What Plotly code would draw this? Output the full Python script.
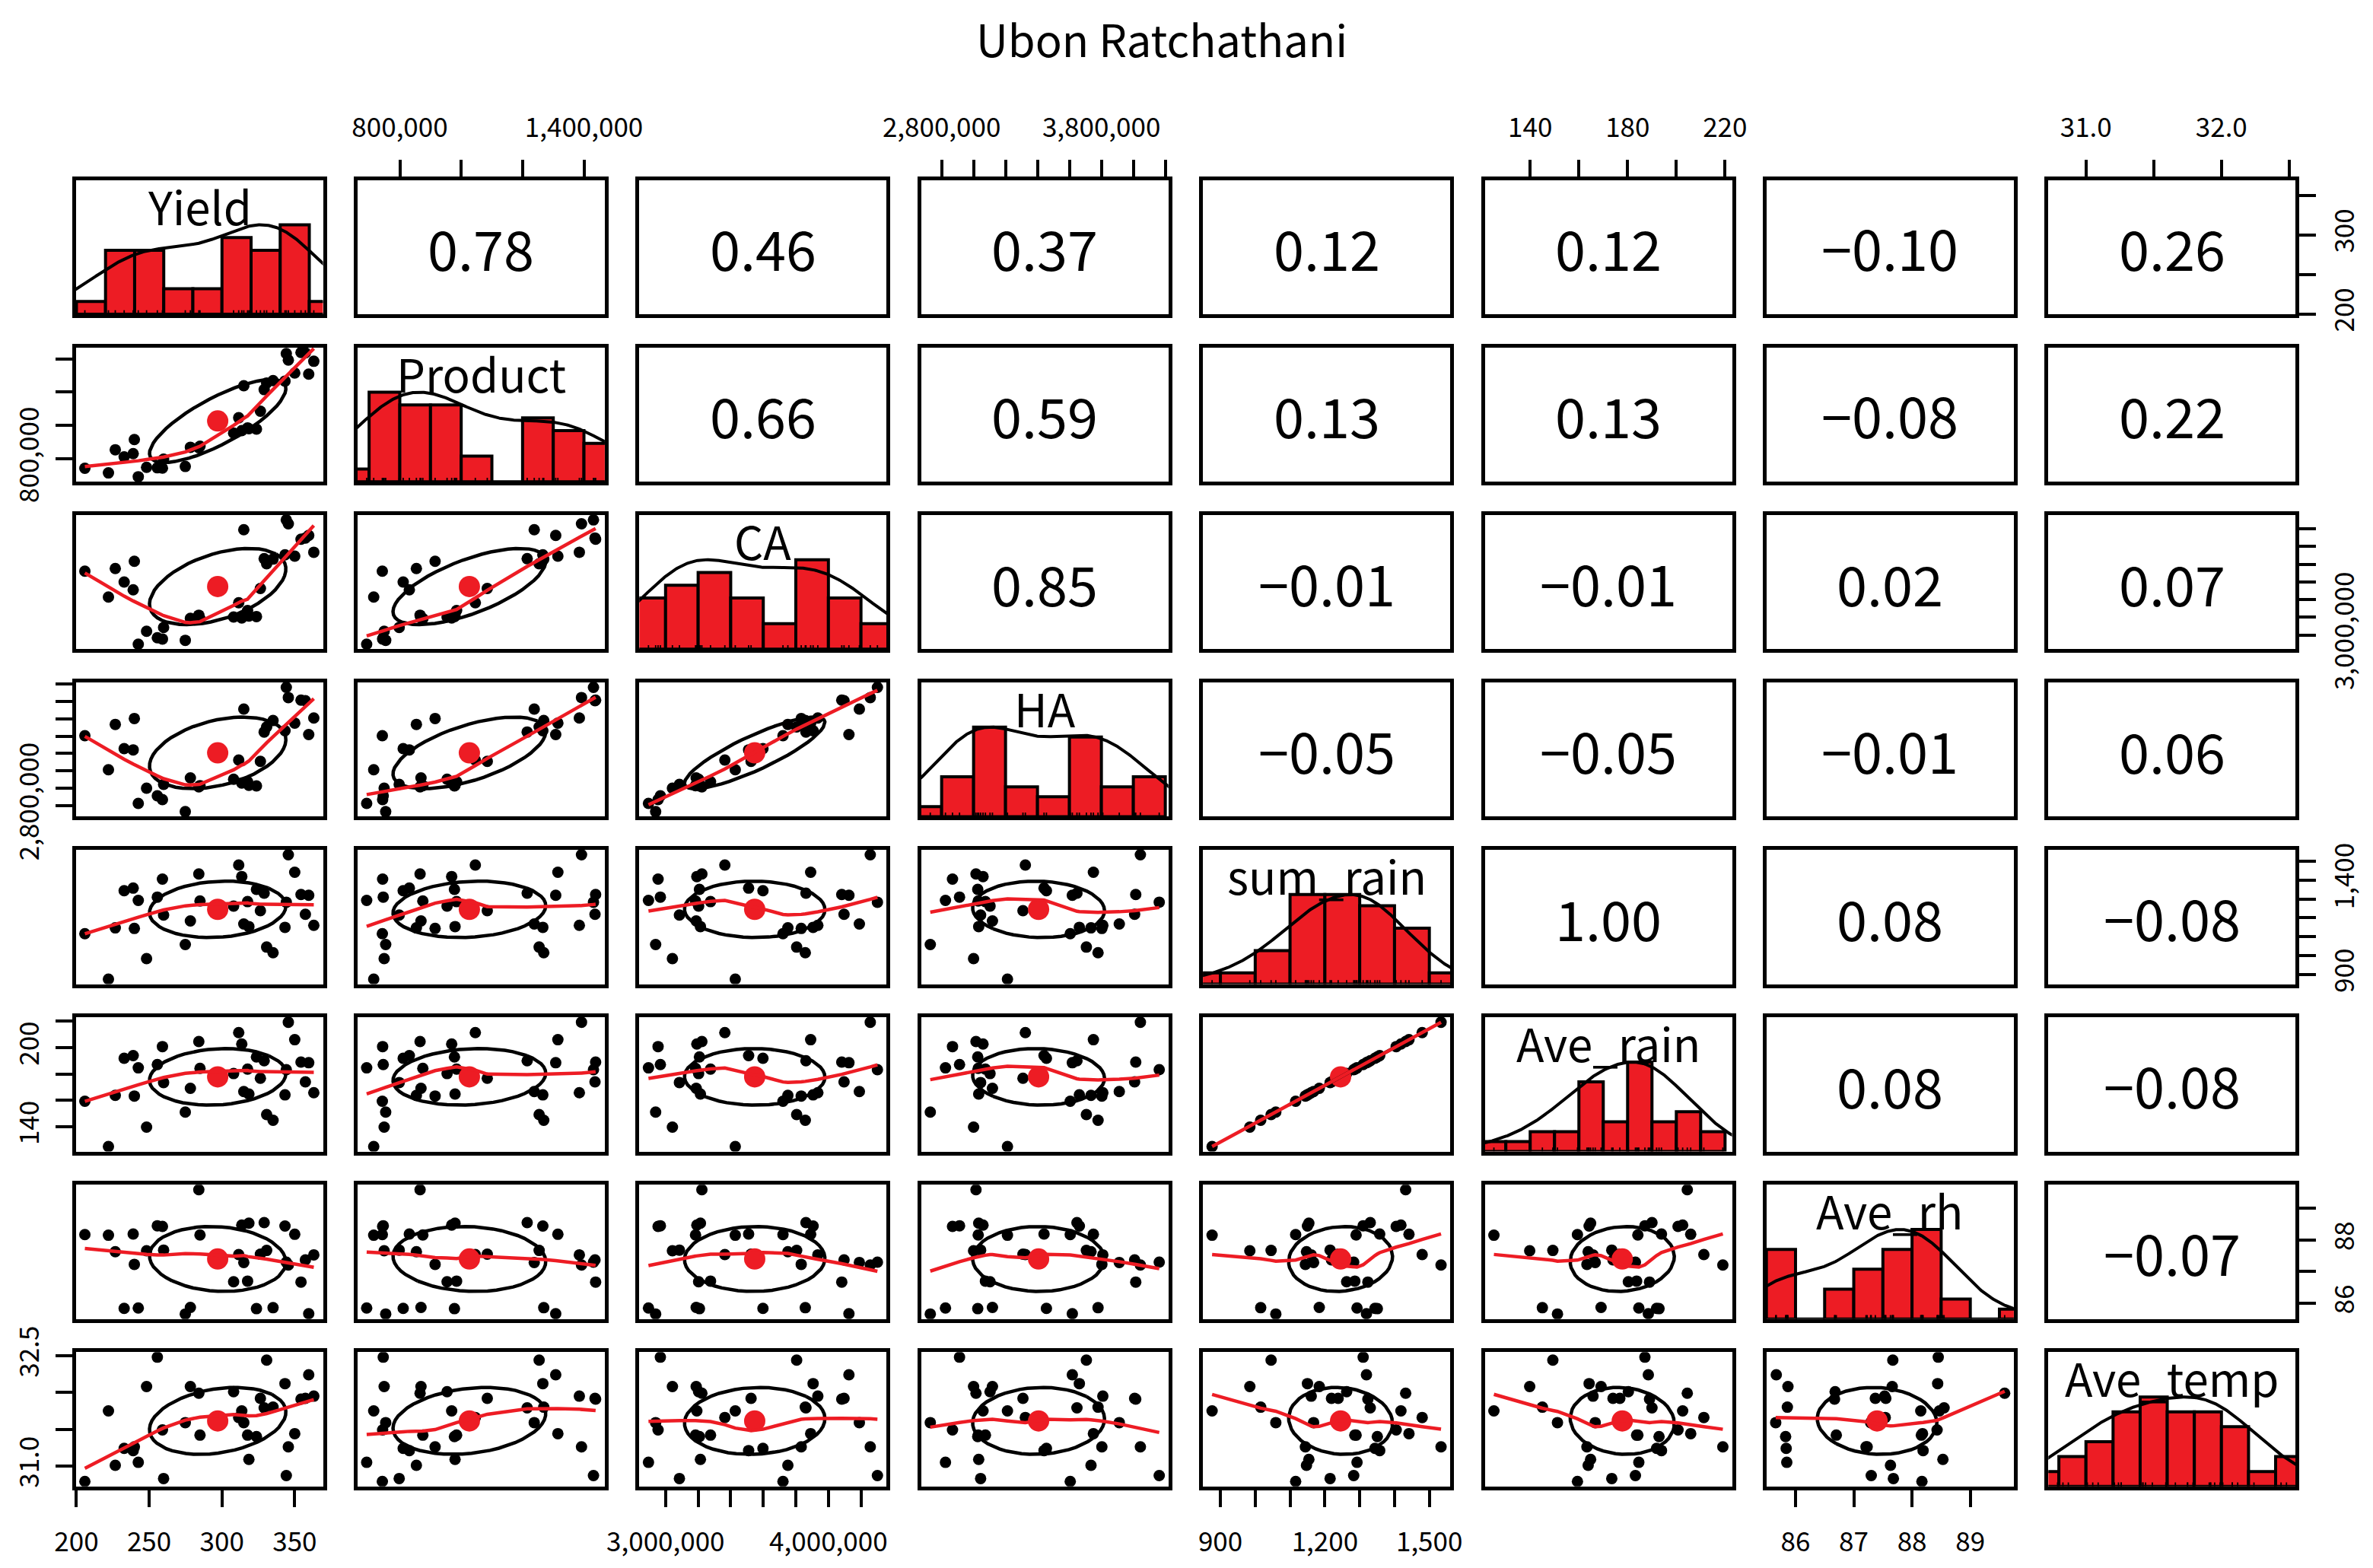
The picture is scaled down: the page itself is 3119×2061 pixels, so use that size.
import numpy as np
import plotly.graph_objects as go

W, H = 3119, 2061
RED = "#ED1C24"
FONT = "Noto Sans CJK SC, Noto Sans CJK JP, Liberation Sans, Arial, sans-serif"

# ---------------- data ----------------
var_names = ["Yield", "Product", "CA", "HA", "sum_rain", "Ave_rain", "Ave_rh", "Ave_temp"]

yield_vals = [205.8, 222.0, 226.7, 232.8, 239.0, 239.8, 242.5, 248.2, 255.6, 259.1, 259.9, 274.8,
              278.3, 284.1, 284.9, 308.0, 311.5, 313.6, 315.0, 317.6, 318.5, 323.7, 326.4, 329.0,
              330.7, 335.1, 343.3, 344.2, 345.6, 350.0, 354.3, 357.3, 359.6, 363.1]
product_vals = [743000, 715000, 854000, 811000, 831000, 915000, 692000, 749000, 746000, 744000,
                798000, 754000, 869000, 866000, 875000, 954000, 1046000, 969000, 1238000, 985000,
                980000, 978000, 1085000, 1215000, 1254000, 1269000, 1266000, 1431000, 1392000,
                1315000, 1438000, 1436000, 1308000, 1385000]
ca_vals = [3721000, 3428000, 3751000, 3598000, 3510000, 3833000, 2895000, 3042000, 2968000, 2954000,
           3085000, 2939000, 3188000, 3223000, 3184000, 3203000, 3364000, 3192000, 4190000, 3276000,
           3214000, 3208000, 3525000, 3862000, 3805000, 3858000, 3906000, 4301000, 4257000, 3891000,
           4082000, 4096000, 4126000, 3935000]
ha_vals = [3605000, 3212000, 3735000, 3456000, 3441000, 3803000, 2824000, 3000000, 2912000, 2868000,
           3044000, 2729000, 3118000, 3015000, 3029000, 3103000, 3324000, 3059000, 3912000, 3074000,
           3032000, 3026000, 3309000, 3647000, 3706000, 3779000, 3662000, 4162000, 4044000, 3750000,
           4015000, 4008000, 3618000, 3809000]
sum_rain_vals = [1116.1, 876.1, 1147.2, 1343.8, 1357.4, 1144.0, 1292.3, 984.5, 1309.9, 1404.8,
                 1215.0, 1059.1, 1183.9, 1432.0, 1289.6, 1262.5, 1479.4, 1418.4, 1167.6, 1286.0,
                 1154.0, 1350.6, 1238.1, 1330.3, 1045.6, 1015.7, 1150.0, 1282.8, 1533.6, 1441.5,
                 1323.5, 1219.0, 1319.4, 1160.8]
ave_rain_vals = [159.4, 125.1, 163.8, 191.9, 193.9, 163.3, 184.6, 139.8, 187.1, 200.7, 173.5, 151.2,
                 169.1, 204.5, 184.2, 180.3, 211.3, 202.6, 166.7, 183.7, 164.8, 192.9, 176.8, 190.0,
                 149.3, 145.0, 164.2, 183.2, 219.1, 205.9, 189.0, 174.0, 188.5, 165.8]
ave_rh_vals = [88.17, 88.15, 87.63, 85.84, 88.19, 87.23, 85.85, 87.66, 88.45, 88.43, 87.68, 85.66,
               85.87, 89.59, 88.16, 86.68, 87.54, 88.47, 87.29, 86.70, 88.53, 85.83, 87.55, 88.55,
               87.67, 85.86, 88.44, 87.30, 87.21, 88.18, 86.67, 87.37, 85.67, 87.53]
ave_temp_vals = [30.79, 31.75, 31.01, 31.24, 31.21, 31.26, 31.05, 32.08, 32.48, 31.49, 30.83, 31.59,
                 32.08, 31.99, 31.42, 32.01, 31.66, 31.75, 31.59, 31.42, 31.09, 31.40, 31.92, 31.79,
                 32.44, 31.80, 32.12, 30.87, 31.26, 31.44, 31.91, 31.92, 32.24, 31.95]

data = [yield_vals, product_vals, ca_vals, ha_vals, sum_rain_vals, ave_rain_vals, ave_rh_vals, ave_temp_vals]

corr_rows = [
    ["0.78", "0.46", "0.37", "0.12", "0.12", "\u22120.10", "0.26"],
    ["0.66", "0.59", "0.13", "0.13", "\u22120.08", "0.22"],
    ["0.85", "\u22120.01", "\u22120.01", "0.02", "0.07"],
    ["\u22120.05", "\u22120.05", "\u22120.01", "0.06"],
    ["1.00", "0.08", "\u22120.08"],
    ["0.08", "\u22120.08"],
    ["\u22120.07"],
]

# tick positions per variable
tick_vals = [
    [200, 250, 300, 350],
    [800000, 1000000, 1200000, 1400000],
    [3000000, 3200000, 3400000, 3600000, 3800000, 4000000, 4200000],
    [2800000, 3000000, 3200000, 3400000, 3600000, 3800000, 4000000, 4200000],
    [900, 1000, 1100, 1200, 1300, 1400, 1500],
    [140, 160, 180, 200, 220],
    [86, 87, 88, 89],
    [31.0, 31.5, 32.0, 32.5],
]
bottom_labels = {0: ["200", "250", "300", "350"],
                 2: ["3,000,000", "", "", "", "", "4,000,000", ""],
                 4: ["900", "", "", "1,200", "", "", "1,500"],
                 6: ["86", "87", "88", "89"]}
top_labels = {1: ["800,000", "", "", "1,400,000"],
              3: ["2,800,000", "", "", "", "", "3,800,000", "", ""],
              5: ["140", "", "180", "", "220"],
              7: ["31.0", "", "32.0", ""]}
right_labels = {0: ["200", "", "300", ""],
                2: ["3,000,000", "", "", "", "", "", ""],
                4: ["900", "", "", "", "", "1,400", ""],
                6: ["86", "", "88", ""]}
left_labels = {1: ["800,000", "", "", ""],
               3: ["2,800,000", "", "", "", "", "", "", ""],
               5: ["140", "", "", "200", ""],
               7: ["31.0", "", "", "32.5"]}

title_text = "Ubon Ratchathani"

# ---------------- helpers (R equivalents) ----------------
def ext_range(v):
    lo, hi = min(v), max(v)
    d = hi - lo
    return [lo - 0.04 * d, hi + 0.04 * d]


def r_pretty(lo, hi, n=7):
    cell = (hi - lo) / n
    h, h5 = 1.5, 0.5 + 1.5 * 1.5
    base = 10 ** np.floor(np.log10(cell))
    unit = base
    if 2 * base - cell < h * (cell - unit):
        unit = 2 * base
        if 5 * base - cell < h5 * (cell - unit):
            unit = 5 * base
            if 10 * base - cell < h * (cell - unit):
                unit = 10 * base
    ns = np.floor(lo / unit + 1e-7)
    nu = np.ceil(hi / unit - 1e-7)
    while ns * unit > lo + 1e-10 * unit:
        ns -= 1
    while nu * unit < hi - 1e-10 * unit:
        nu += 1
    return np.arange(ns, nu + 0.5) * unit


def r_hist(x):
    x = np.asarray(x, float)
    nclass = int(np.ceil(np.log2(len(x)) + 1))
    br = r_pretty(x.min(), x.max(), nclass)
    idx = np.searchsorted(br, x, side="left")
    idx = np.clip(idx - 1, 0, len(br) - 2)
    counts = np.bincount(idx, minlength=len(br) - 1)
    return br, counts


def r_density(x, adjust=1.2, n=512):
    x = np.asarray(x, float)
    q1, q3 = np.percentile(x, [25, 75])
    lo = min(x.std(ddof=1), (q3 - q1) / 1.34)
    bw = 1.06 * lo * len(x) ** (-0.2) * adjust
    g = np.linspace(x.min() - 3 * bw, x.max() + 3 * bw, n)
    d = np.exp(-0.5 * ((g[:, None] - x[None, :]) / bw) ** 2).sum(1)
    return g, d / d.max()


def r_lowess(x, y, f=2 / 3, iters=3):
    x = np.asarray(x, float)
    y = np.asarray(y, float)
    o = np.argsort(x, kind="stable")
    x, y = x[o], y[o]
    n = len(x)
    ns = max(2, min(n, int(f * n + 1e-7)))
    rng = x[-1] - x[0]
    rw = np.ones(n)
    ys = np.zeros(n)
    for it in range(iters + 1):
        for i in range(n):
            d = np.abs(x - x[i])
            h = np.sort(d)[ns - 1]
            w = np.zeros(n)
            m = d <= 0.999 * h
            if h > 0:
                w[m] = np.where(d[m] <= 0.001 * h, 1.0, (1 - (d[m] / h) ** 3) ** 3)
            else:
                w[m] = 1.0
            w = w * rw
            a = w.sum()
            if a <= 0:
                ys[i] = y[i]
                continue
            w = w / a
            if h > 0:
                a = (w * x).sum()
                b = (w * (x - a) ** 2).sum()
                if np.sqrt(b) > 0.001 * rng:
                    b = (x[i] - a) / b
                    w = w * (b * (x - a) + 1)
            ys[i] = (w * y).sum()
        if it == iters:
            break
        ar = np.abs(y - ys)
        cmad = 6 * np.median(ar)
        if cmad < 1e-7 * np.mean(np.abs(y)):
            break
        rw = np.where(ar <= 0.001 * cmad, 1.0,
                      np.where(ar <= 0.999 * cmad, (1 - (ar / cmad) ** 2) ** 2, 0.0))
    return x, ys


def ellipse(xm, ym, xs, ys, r, seg=51):
    ang = np.arange(seg + 1) * 2 * np.pi / seg
    uc = np.column_stack([np.cos(ang), np.sin(ang)])
    th = np.sign(r) / np.sqrt(2) if abs(r) > 0 else 1 / np.sqrt(2)
    shape = np.diag([np.sqrt(1 + r), np.sqrt(max(1 - r, 0))]) @ np.array([[th, th], [-th, th]])
    e = uc @ shape
    return e[:, 0] * xs + xm, e[:, 1] * ys + ym


# ---------------- geometry ----------------
X0, XP, PW = 99.5, 370.4, 325.0
Y0, YP, PH = 236.6, 220.1, 176.5

fig = go.Figure()
layout = dict(template="none", width=W, height=H, autosize=False,
              margin=dict(l=0, r=0, t=0, b=0, pad=0),
              paper_bgcolor="white", plot_bgcolor="white", showlegend=False,
              barmode="overlay", font=dict(family=FONT, color="black"))
annotations = []
ranges = [ext_range(v) for v in data]


def tick_style(tv, tt, side, is_y):
    return dict(ticks="outside", ticklen=22, tickwidth=4, tickcolor="black",
                tickmode="array", tickvals=tv, ticktext=tt, showticklabels=True,
                side=side, tickangle=(-90 if is_y else 0), ticklabelstandoff=(8 if is_y else 16),
                tickfont=dict(size=35, family=FONT, color="black"))


for i in range(8):
    for j in range(8):
        k = i * 8 + j + 1
        sfx = "" if k == 1 else str(k)
        left = X0 + j * XP
        top = Y0 + i * YP
        xd = [left / W, (left + PW) / W]
        yd = [1 - (top + PH) / H, 1 - top / H]
        common = dict(showgrid=False, zeroline=False, showline=True, mirror=True,
                      linecolor="black", linewidth=5, ticks="", showticklabels=False,
                      fixedrange=True, automargin=False, layer="above traces")
        xa = dict(domain=xd, range=ranges[j], anchor="y" + sfx, **common)
        yr = [0, 1.5] if i == j else ranges[i]
        ya = dict(domain=yd, range=yr, anchor="x" + sfx, **common)
        if i == 7 and j in bottom_labels:
            xa.update(tick_style(tick_vals[j], bottom_labels[j], "bottom", False))
        if i == 0 and j in top_labels:
            xa.update(tick_style(tick_vals[j], top_labels[j], "top", False))
        if j == 7 and i in right_labels:
            ya.update(tick_style(tick_vals[i], right_labels[i], "right", True))
        if j == 0 and i in left_labels:
            ya.update(tick_style(tick_vals[i], left_labels[i], "left", True))
        layout["xaxis" + sfx] = xa
        layout["yaxis" + sfx] = ya
        axk = dict(xaxis="x" + sfx, yaxis="y" + sfx)
        cx = (left + PW / 2) / W
        cy = 1 - (top + PH / 2) / H

        if i == j:
            x = np.asarray(data[i], float)
            br, counts = r_hist(x)
            hts = counts / counts.max()
            fig.add_trace(go.Bar(x=(br[:-1] + br[1:]) / 2, y=hts, width=np.diff(br),
                                 marker=dict(color=RED, line=dict(color="black", width=4)),
                                 hoverinfo="skip", **axk))
            g, d = r_density(x)
            fig.add_trace(go.Scatter(x=g, y=d, mode="lines", line=dict(color="black", width=4),
                                     hoverinfo="skip", **axk))
            rx, ry = [], []
            for v in x:
                rx += [v, v, None]
                ry += [0, 0.045, None]
            fig.add_trace(go.Scatter(x=rx, y=ry, mode="lines", line=dict(color="black", width=1.8),
                                     hoverinfo="skip", **axk))
            annotations.append(dict(x=cx, y=1 - (top + PH * 0.185) / H, xref="paper", yref="paper",
                                    text=var_names[i], showarrow=False,
                                    font=dict(size=60, family=FONT, color="black"),
                                    xanchor="center", yanchor="middle"))
        elif i > j:
            x = np.asarray(data[j], float)
            y = np.asarray(data[i], float)
            r = float(corr_rows[j][i - j - 1].replace("\u2212", "-"))
            fig.add_trace(go.Scatter(x=x, y=y, mode="markers",
                                     marker=dict(size=15, color="black", line=dict(width=0)),
                                     hoverinfo="skip", **axk))
            fig.add_trace(go.Scatter(x=[x.mean()], y=[y.mean()], mode="markers",
                                     marker=dict(size=28, color=RED, line=dict(width=0)),
                                     hoverinfo="skip", **axk))
            ex, ey = ellipse(x.mean(), y.mean(), x.std(ddof=1), y.std(ddof=1), r)
            fig.add_trace(go.Scatter(x=ex, y=ey, mode="lines", line=dict(color="black", width=4.5),
                                     hoverinfo="skip", **axk))
            lx, ly = r_lowess(x, y)
            fig.add_trace(go.Scatter(x=lx, y=ly, mode="lines", line=dict(color=RED, width=4.5),
                                     hoverinfo="skip", **axk))
        else:
            # empty carrier trace so the panel box and its axes are drawn
            fig.add_trace(go.Scatter(x=[sum(ranges[j]) / 2], y=[sum(ranges[i]) / 2], mode="markers",
                                     marker=dict(size=1, opacity=0), hoverinfo="skip", **axk))
            annotations.append(dict(x=cx, y=cy, xref="paper", yref="paper",
                                    text=corr_rows[i][j - i - 1], showarrow=False,
                                    font=dict(size=72, family=FONT, color="black"),
                                    xanchor="center", yanchor="middle"))

annotations.append(dict(x=1527 / W, y=1 - 50 / H, xref="paper", yref="paper", text=title_text,
                        showarrow=False, font=dict(size=58, family=FONT, color="black"),
                        xanchor="center", yanchor="middle"))
layout["annotations"] = annotations
fig.update_layout(**layout)

fig.write_html("out.html", config={"displayModeBar": False},
               post_script="document.body.style.margin='0px';")
